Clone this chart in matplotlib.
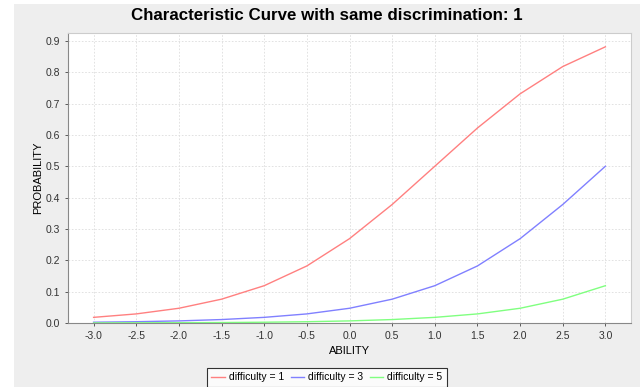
import matplotlib
matplotlib.use("Agg")
import matplotlib.pyplot as plt
from matplotlib.patches import Rectangle

# item characteristic curves, discrimination = 1
ability = [-3.0, -2.5, -2.0, -1.5, -1.0, -0.5, 0.0, 0.5, 1.0, 1.5, 2.0, 2.5, 3.0]
prob_diff1 = [0.018, 0.029, 0.047, 0.076, 0.119, 0.182, 0.269, 0.378, 0.500,
              0.622, 0.731, 0.818, 0.881]
prob_diff3 = [0.0025, 0.0041, 0.0067, 0.011, 0.018, 0.029, 0.047, 0.076, 0.119,
              0.182, 0.269, 0.378, 0.500]
prob_diff5 = [0.0003, 0.0006, 0.0009, 0.0015, 0.0025, 0.0041, 0.0067, 0.011,
              0.018, 0.029, 0.047, 0.076, 0.119]
labels = ["difficulty = 1", "difficulty = 3", "difficulty = 5"]
colors = ["#ff8080", "#8080ff", "#80ff80"]

plt.rcParams['font.family'] = ['Liberation Sans', 'DejaVu Sans']

fig = plt.figure(figsize=(6.4, 3.87), dpi=100)
W, H = 640, 387

# grey chart background like the original panel
fig.patches.append(Rectangle((14 / W, 0), 1 - 14 / W, 1 - 4 / H,
                             transform=fig.transFigure, facecolor="#eeeeee",
                             edgecolor="none", zorder=-10))

ax = fig.add_axes([68 / W, 1 - 323 / H, (631 - 68) / W, (323 - 33) / H])
ax.set_facecolor("white")

for ys, lab, col in zip([prob_diff1, prob_diff3, prob_diff5], labels, colors):
    ax.plot(ability, ys, color=col, lw=1.0, label=lab)

ax.set_xlim(-3.3, 3.3)
ax.set_ylim(0, 0.925)
ax.set_xticks(ability)
ax.set_xticklabels([f"{v:.1f}" for v in ability])
ax.set_yticks([i / 10 for i in range(10)])
ax.set_yticklabels([f"{i / 10:.1f}" for i in range(10)])
ax.tick_params(labelsize=7.5, colors="#444444", length=2, width=0.6,
               labelcolor="#333333")
ax.grid(True, color="#dddddd", linestyle=(0, (2, 2)), linewidth=0.6)
ax.set_axisbelow(True)

for side in ["top", "right"]:
    ax.spines[side].set_color("#cccccc")
for side in ["left", "bottom"]:
    ax.spines[side].set_color("#888888")
for sp in ax.spines.values():
    sp.set_linewidth(0.8)

ax.set_xlabel("ABILITY", fontsize=8, labelpad=4)
ax.set_ylabel("PROBABILITY", fontsize=8, labelpad=2)

fig.text(327 / W, 1 - 16 / H, "Characteristic Curve with same discrimination: 1",
         ha="center", va="center", fontsize=12.2, fontweight="bold")

leg = fig.legend(loc="upper center", bbox_to_anchor=(327 / W, 1 - 363 / H),
                 ncol=3, fontsize=7.5, frameon=True, fancybox=False,
                 handlelength=1.3, handletextpad=0.4, columnspacing=0.6,
                 borderpad=0.4)
leg.get_frame().set_edgecolor("black")
leg.get_frame().set_linewidth(0.8)

fig.savefig("out.png", dpi=100, facecolor="white")
